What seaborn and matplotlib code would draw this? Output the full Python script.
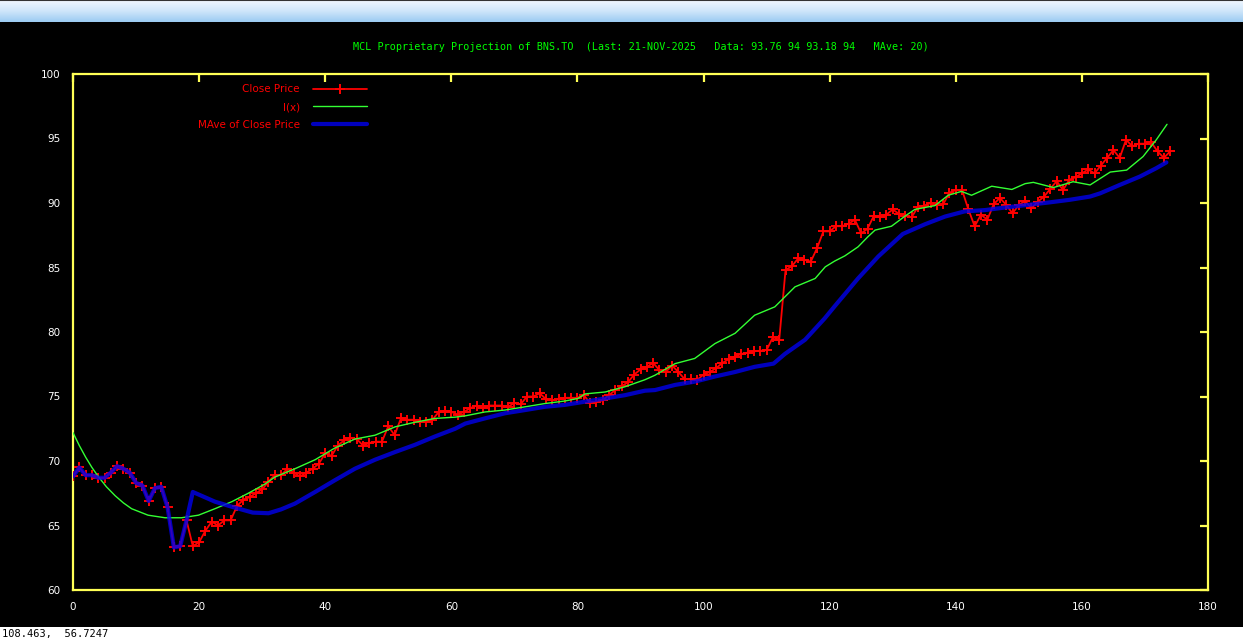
import numpy as np
import pandas as pd
import seaborn as sns
import matplotlib
matplotlib.use('Agg')
import matplotlib.pyplot as plt
from matplotlib.patches import Rectangle

# close prices, one per day index 0..174
close_price = [68.8, 69.5, 68.9, 68.9, 68.7, 68.7, 69.1, 69.6, 69.4, 69.1,
               68.3, 68.1, 66.9, 67.9, 68.0, 66.4, 63.3, 63.4, 65.4, 63.4,
               63.7, 64.6, 65.3, 65.0, 65.4, 65.4, 66.5, 67.0, 67.2, 67.5,
               67.8, 68.4, 68.9, 68.9, 69.4, 69.1, 68.8, 69.1, 69.4, 69.8,
               70.6, 70.4, 71.2, 71.6, 71.8, 71.7, 71.2, 71.4, 71.5, 71.5,
               72.7, 72.0, 73.3, 73.2, 73.2, 73.05, 73.05, 73.2, 73.8, 73.9,
               73.8, 73.6, 73.8, 74.1, 74.3, 74.1, 74.3, 74.3, 74.3, 74.2,
               74.5, 74.4, 75.0, 75.0, 75.25, 74.8, 74.7, 74.8, 74.9, 74.9,
               74.9, 75.1, 74.5, 74.6, 74.7, 75.1, 75.5, 75.8, 76.1, 76.7,
               77.1, 77.3, 77.6, 77.05, 76.9, 77.4, 76.9, 76.35, 76.35, 76.3,
               76.7, 76.9, 77.2, 77.6, 77.9, 78.1, 78.3, 78.4, 78.5, 78.55,
               78.6, 79.6, 79.4, 84.8, 85.1, 85.7, 85.6, 85.45, 86.5, 87.8,
               87.8, 88.2, 88.2, 88.4, 88.7, 87.65, 88.0, 89.0, 88.9, 89.1,
               89.5, 89.15, 89.0, 88.9, 89.7, 89.8, 90.0, 89.85, 89.9, 90.8,
               91.0, 91.0, 89.5, 88.2, 89.1, 88.7, 89.9, 90.4, 89.85, 89.2,
               89.85, 90.15, 89.6, 90.1, 90.5, 91.1, 91.7, 91.0, 91.8, 92.0,
               92.3, 92.6, 92.3, 92.9, 93.5, 94.1, 93.5, 94.9, 94.4, 94.6,
               94.6, 94.7, 94.0, 93.5, 94.0]
close_x = list(range(len(close_price)))

# I(x) projection curve
proj_x = [0, 1, 2, 3, 4, 5.3, 6.7, 8, 9.3, 11.9, 14.6, 17.2, 19.9, 22.5,
          25.2, 27.8, 30.4, 32, 35.2, 38.4, 41.5, 44.7, 47.9, 51.1, 54.2,
          57.4, 60.6, 62.2, 65.3, 68.5, 71.7, 74.8, 78, 80.1, 81.2, 84.4,
          87.5, 90.7, 92.3, 95.5, 98.6, 101.8, 105, 108.1, 111.3, 114.5,
          117.7, 119.3, 120.8, 122.4, 124.5, 126.1, 127.2, 129.8, 132, 133.5,
          136.7, 138.8, 140.9, 142.5, 145.7, 148.9, 151, 152.3, 155.5, 158.6,
          161.3, 164.5, 167.1, 169.7, 171.8, 173.5]
proj_y = [72.2, 71.2, 70.3, 69.5, 68.8, 68.0, 67.3, 66.75, 66.3, 65.8, 65.6,
          65.6, 65.8, 66.3, 66.85, 67.5, 68.2, 68.75, 69.4, 70.1, 71.0, 71.7,
          72.0, 72.65, 73.0, 73.3, 73.4, 73.5, 73.8, 73.95, 74.2, 74.45,
          74.65, 74.85, 75.2, 75.35, 75.75, 76.3, 76.65, 77.55, 77.95, 79.1,
          79.9, 81.3, 81.95, 83.5, 84.15, 85.05, 85.5, 85.9, 86.6, 87.4,
          87.9, 88.2, 89.0, 89.5, 89.8, 90.6, 90.9, 90.6, 91.3, 91.05, 91.5,
          91.6, 91.2, 91.65, 91.4, 92.4, 92.55, 93.6, 94.9, 96.1]

# moving average of close (20)
mave_x = [0, 1, 2, 3, 4, 5, 6, 7, 8, 9, 10, 11, 12, 13, 14, 15, 16, 17, 18,
          19, 22.5, 25.2, 28.5, 31, 33, 35.2, 38.4, 41.5, 44.7, 47.9, 51.1,
          54.2, 57.4, 60.6, 62.2, 65.3, 68.5, 71.7, 74.8, 78, 81.2, 84.4,
          87.5, 90.7, 92.3, 95.5, 98.6, 101.8, 105, 108.1, 111.1, 112.9,
          116.1, 119.2, 120.8, 124.5, 127.7, 131.6, 135.1, 138.3, 141.4,
          144.6, 147.8, 151.4, 154.9, 158.1, 161.3, 162.9, 166, 169.2, 171.8,
          173.4]
mave_y = [68.8, 69.5, 68.9, 68.9, 68.7, 68.7, 69.1, 69.6, 69.4, 69.1, 68.3,
          68.1, 66.9, 67.9, 68.0, 66.4, 63.3, 63.4, 65.4,
          67.6, 66.85, 66.45, 66.0, 65.95, 66.25, 66.7, 67.6, 68.5, 69.4,
          70.1, 70.7, 71.25, 71.9, 72.5, 72.9, 73.3, 73.7, 73.95, 74.2, 74.35,
          74.6, 74.85, 75.1, 75.45, 75.5, 75.9, 76.15, 76.55, 76.9, 77.3,
          77.55, 78.3, 79.4, 81.05, 82.0, 84.15, 85.85, 87.6, 88.35, 88.95,
          89.35, 89.45, 89.65, 89.85, 90.05, 90.25, 90.5, 90.75, 91.4, 92.05,
          92.7, 93.15]

title = ("MCL Proprietary Projection of BNS.TO  (Last: 21-NOV-2025   "
         "Data: 93.76 94 93.18 94   MAve: 20)")
x_ticks = [0, 20, 40, 60, 80, 100, 120, 140, 160, 180]
y_ticks = [60, 65, 70, 75, 80, 85, 90, 95, 100]
status_text = "108.463,  56.7247"

sns.set_style("dark")
plt.rcParams['font.family'] = ['DejaVu Sans']

W, H = 1243, 641
fig = plt.figure(figsize=(W / 100, H / 100), dpi=100, facecolor='black')

# window title bar at the top
bar = fig.add_axes([0, 1 - 22 / H, 1, 22 / H])
grad = np.linspace(0, 1, 50).reshape(-1, 1)
cmap = matplotlib.colors.LinearSegmentedColormap.from_list(
    'bar', ['#f0f7ff', '#cfe6fa', '#9ccbf2'])
bar.imshow(grad, aspect='auto', cmap=cmap, extent=[0, 1, 0, 1])
bar.axhline(1, color='#333333', lw=1.5)
bar.axis('off')

# status strip at the bottom
fig.patches.append(Rectangle((0, 0), 1, 14 / H, transform=fig.transFigure,
                             facecolor='white', edgecolor='none', zorder=0))
fig.text(2 / W, 7 / H, status_text, color='black', fontsize=7.5,
         family='DejaVu Sans Mono', va='center', ha='left')

ax = fig.add_axes([73 / W, 1 - 590 / H, 1135 / W, 516 / H])
ax.set_facecolor('black')

df_close = pd.DataFrame({'x': close_x, 'y': close_price})
df_proj = pd.DataFrame({'x': proj_x, 'y': proj_y})
df_mave = pd.DataFrame({'x': mave_x, 'y': mave_y})

sns.lineplot(data=df_close, x='x', y='y', ax=ax, color='#ff0000', lw=1.3,
             marker='+', markersize=6.5, markeredgewidth=1.4,
             markeredgecolor='#ff0000', sort=False, label='Close Price',
             zorder=3)
sns.lineplot(data=df_proj, x='x', y='y', ax=ax, color='#33ff33', lw=1.0,
             sort=False, label='I(x)', zorder=4)
sns.lineplot(data=df_mave, x='x', y='y', ax=ax, color='#0000ee', lw=3.0,
             alpha=0.8, sort=False, label='MAve of Close Price', zorder=5)

ax.set_xlim(0, 180)
ax.set_ylim(60, 100)
ax.set_xticks(x_ticks)
ax.set_yticks(y_ticks)
ax.set_xlabel('')
ax.set_ylabel('')
ax.grid(False)
for sp in ax.spines.values():
    sp.set_visible(True)
    sp.set_color('#ffff55')
    sp.set_linewidth(1.6)
ax.tick_params(axis='both', direction='in', length=6, width=1.6,
               color='#ffff55', labelcolor='white', labelsize=7.5,
               top=True, right=True, pad=9)

ax.set_title(title, color='#00ff00', fontsize=7.3,
             family='DejaVu Sans Mono', pad=17)

leg = ax.legend(loc='upper right', bbox_to_anchor=(0.2594, 0.980),
                markerfirst=False, frameon=False, fontsize=7.5,
                handlelength=5.2, handletextpad=1.3, labelspacing=0.75,
                borderpad=0, borderaxespad=0)
for t in leg.get_texts():
    t.set_color('#ff0000')

fig.savefig('out.png', dpi=100, facecolor='black')
